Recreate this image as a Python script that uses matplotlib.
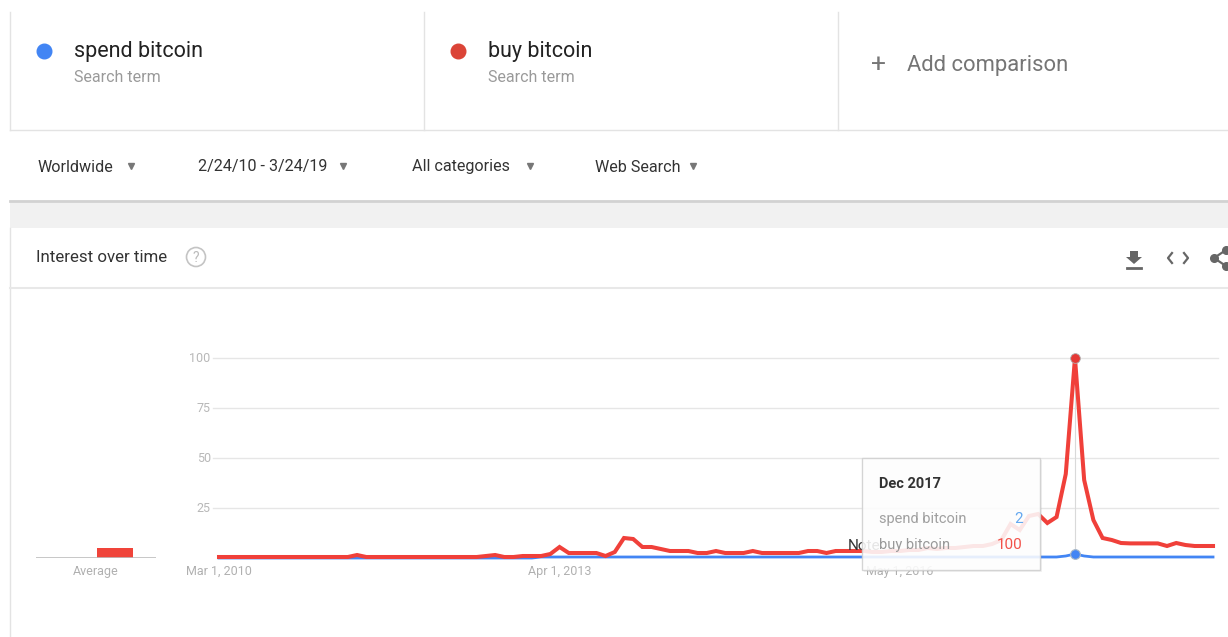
import numpy as np
import pandas as pd
import matplotlib
matplotlib.use('Agg')
import matplotlib.pyplot as plt
from matplotlib.patches import Rectangle, Circle, Polygon

plt.rcParams['font.family'] = ['Roboto', 'DejaVu Sans']

# monthly interest, Mar 2010 .. Mar 2019 (109 months)
months = pd.date_range('2010-03-01', periods=109, freq='MS')

buy_bitcoin = ([0.5] * 15 + [1.5] + [0.5] * 13 +
               [1, 1.5, 0.5, 0.5, 1, 1, 1, 2, 5.5, 2.5, 2.5, 2.5, 2.5, 1, 3,
                10, 9.5, 5.5, 5.5, 4.5, 3.5, 3.5, 3.5, 2.5, 2.5, 3.5, 2.5, 2.5, 2.5,
                3.5, 2.5, 2.5, 2.5, 2.5, 2.5, 3.5, 3.5, 2.5, 3.5, 3.5, 3.5, 3.5,
                3, 3, 3.5, 3.5, 4, 4, 5, 4.5, 5, 5, 5.5, 6, 6, 7,
                9, 17, 14, 21, 22, 17.5, 20.5, 42, 100, 39, 19, 10, 9,
                7.5, 7.3, 7.3, 7.3, 7.3, 6, 7.5, 6.5, 6, 6, 6])
spend_bitcoin = ([0] * 35 + [0.5] * 57 + [1, 2, 1] + [0.5] * 14)

avg_labels = ['spend bitcoin', 'buy bitcoin']
avg_values = [0, 5]

yticks = [25, 50, 75, 100]
xtick_idx = [0, 37, 74]
xtick_labels = ['Mar 1, 2010', 'Apr 1, 2013', 'May 1, 2016']

peak_idx = 93
tip_title = 'Dec 2017'

BLUE = '#4285f4'
RED = '#f0403a'
DOT_RED = '#db4437'

W, H = 1228, 637
fig = plt.figure(figsize=(W / 100, H / 100), dpi=100)
fig.patch.set_facecolor('white')


def px_axes(x0, y0, x1, y1):
    return fig.add_axes([x0 / W, 1 - y1 / H, (x1 - x0) / W, (y1 - y0) / H])


# ---- chart ----
ax = px_axes(213, 358, 1218, 558)
ax.set_zorder(1)
xnum = np.arange(len(months))
ax.set_xlim(-0.652, 108.54)
ax.set_ylim(0, 100)
for v in yticks:
    ax.axhline(v, color='#e6e6e6', lw=1, zorder=0, clip_on=False)
    ax.text(-0.9, v, str(v), ha='right', va='center', fontsize=9, color='#b8b8b8')
ax.plot(xnum, spend_bitcoin, color=BLUE, lw=2.0, zorder=2, clip_on=False)
ax.plot(xnum, buy_bitcoin, color=RED, lw=2.9, zorder=3, clip_on=False,
        solid_joinstyle='miter')
ax.axvline(peak_idx, color='#d9d9d9', lw=0.8, zorder=1)
ax.plot(peak_idx, buy_bitcoin[peak_idx], 'o', ms=7, color='#e53935',
        mec='#b0b0b0', mew=0.6, zorder=4, clip_on=False)
ax.plot(peak_idx, spend_bitcoin[peak_idx], 'o', ms=7, color=BLUE,
        mec='#a8b8c8', mew=0.8, zorder=4, clip_on=False)
ax.set_xticks(xtick_idx)
ax.set_xticklabels(xtick_labels, fontsize=9, color='#b0b0b0')
ax.tick_params(length=0, pad=5)
ax.set_yticks([])
for s in ax.spines.values():
    s.set_visible(False)
ax.patch.set_alpha(0)

# average bars
axa = px_axes(36, 358, 156, 558)
axa.set_zorder(1)
axa.bar([0, 1], avg_values, width=0.95, color=[BLUE, '#f0443a'])
axa.set_xlim(-1.08, 2.08)
axa.set_ylim(0, 100)
axa.axhline(0, color='#bdbdbd', lw=1.2)
axa.set_xticks([0.5])
axa.set_xticklabels(['Average'], fontsize=9, color='#b0b0b0')
axa.tick_params(length=0, pad=5)
axa.set_yticks([])
for s in axa.spines.values():
    s.set_visible(False)
axa.patch.set_alpha(0)

# ---- page chrome (pixel coordinates) ----
ui = fig.add_axes([0, 0, 1, 1])
ui.set_zorder(2)
ui.set_xlim(0, W)
ui.set_ylim(H, 0)
ui.axis('off')
ui.patch.set_alpha(0)

line_c = '#e3e3e3'
ui.plot([10, 10], [12, 130], color=line_c, lw=1)
ui.plot([424, 424], [12, 130], color=line_c, lw=1)
ui.plot([838, 838], [12, 130], color=line_c, lw=1)
ui.plot([10, W], [130, 130], color=line_c, lw=1)

ui.plot(44, 51, 'o', ms=10.5, color=BLUE)
ui.text(74, 52, 'spend bitcoin', fontsize=15.5, color='#222', va='center')
ui.text(74, 77, 'Search term', fontsize=11.5, color='#9a9a9a', va='center')
ui.plot(458, 51, 'o', ms=10.5, color=DOT_RED)
ui.text(488, 52, 'buy bitcoin', fontsize=15.5, color='#222', va='center')
ui.text(488, 77, 'Search term', fontsize=11.5, color='#9a9a9a', va='center')
ui.text(878, 65, '+', fontsize=19, color='#777', va='center', ha='center')
ui.text(907, 66, 'Add comparison', fontsize=15.8, color='#757575', va='center')

filters = [(38, 'Worldwide', 131), (198, '2/24/10 - 3/24/19', 343),
           (412, 'All categories', 530), (595, 'Web Search', 693)]
for x, label, ax_x in filters:
    ui.text(x, 167, label, fontsize=11.6, color='#333', va='center')
    ui.plot(ax_x, 166, 'v', ms=4.8, color='#777')

# grey band between sections
ui.add_patch(Rectangle((10, 201), W - 10, 27, color='#f1f1f1', lw=0))
ui.plot([10, W], [201, 201], color='#d2d2d2', lw=2)
ui.plot([10, 10], [228, H], color=line_c, lw=1)
ui.plot([10, W], [288, 288], color='#e8e8e8', lw=1.5)

ui.text(36, 258, 'Interest over time', fontsize=12.2, color='#333', va='center')
ui.add_patch(Circle((196, 257), 9.5, fill=False, ec='#c4c4c4', lw=1.2))
ui.text(196, 258, '?', fontsize=10, color='#bbb', ha='center', va='center')

# toolbar icons
ui.add_patch(Polygon([[1130, 251], [1138, 251], [1138, 257], [1142, 257],
                      [1134, 264], [1126, 257], [1130, 257]], color='#666', lw=0))
ui.plot([1127, 1141], [268, 268], color='#666', lw=2)
ui.plot([1172, 1168, 1172], [253, 258, 263], color='#666', lw=1.6)
ui.plot([1184, 1188, 1184], [253, 258, 263], color='#666', lw=1.6)
ui.plot([1226, 1214, 1226], [250, 258, 266], color='#666', lw=1.6)
ui.plot([1214], [258], 'o', ms=5.5, color='#666')
ui.plot([1226, 1226], [250, 266], 'o', ms=5.5, color='#666', lw=0)

# "Note" marker under the tooltip
ui.text(848, 546, 'Note', fontsize=11, color='#333', va='center', zorder=1)

# tooltip
ui.add_patch(Rectangle((864, 460), 178, 112, fc='#000000', alpha=0.05, lw=0, zorder=2))
ui.add_patch(Rectangle((862, 458), 178, 112, fc='white', alpha=0.88,
                       ec='#cfcfcf', lw=1, zorder=3))
ui.text(879, 484, tip_title, fontsize=10.5, fontweight='bold', color='#333',
        va='center', zorder=4)
ui.text(879, 519, avg_labels[0], fontsize=10.5, color='#a0a0a0', va='center', zorder=4)
ui.text(1023, 519, '%d' % spend_bitcoin[peak_idx], fontsize=11, color='#64a8f0',
        va='center', ha='right', zorder=4)
ui.text(879, 545, avg_labels[1], fontsize=10.5, color='#999', va='center', zorder=4)
ui.text(1023, 545, '%d' % buy_bitcoin[peak_idx], fontsize=11, color='#f2524a',
        va='center', ha='right', zorder=4)

fig.savefig('out.png', dpi=100, facecolor='white')
